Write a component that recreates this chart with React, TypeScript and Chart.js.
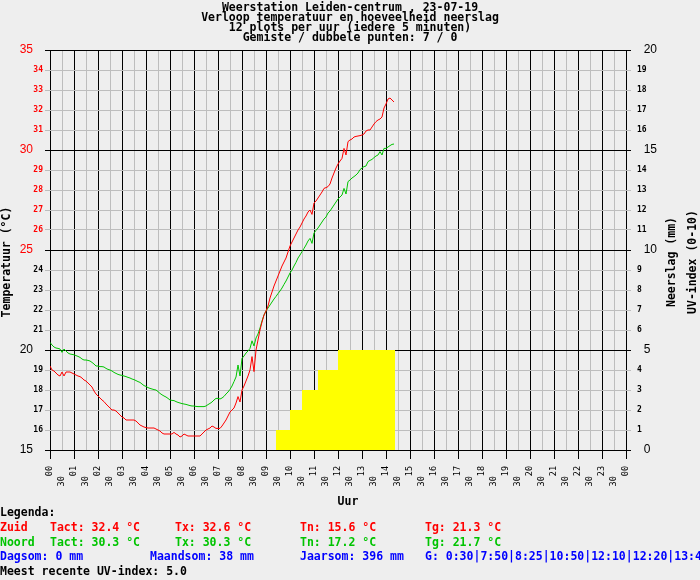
import React, { useEffect, useRef } from 'react';
import { Chart, registerables } from 'chart.js';

Chart.register(...registerables);

// ---- data ----
const START_MINUTE = 0;
const STEP_MINUTES = 5;

const zuidTemp = [
  19.2, 19.0, 18.95, 18.85, 18.75, 18.7, 18.9, 18.7, 18.9, 18.9, 18.9, 18.85,
  18.8, 18.75, 18.7, 18.67, 18.6, 18.5, 18.45, 18.35, 18.25, 18.15, 17.95, 17.8,
  17.7, 17.6, 17.5, 17.42, 17.3, 17.2, 17.1, 17.0, 17.0, 16.95, 16.85, 16.75,
  16.65, 16.6, 16.5, 16.5, 16.5, 16.5, 16.5, 16.45, 16.35, 16.25, 16.2, 16.15,
  16.12, 16.1, 16.1, 16.1, 16.1, 16.05, 16.0, 15.95, 15.85, 15.8, 15.8, 15.8,
  15.8, 15.8, 15.88, 15.8, 15.75, 15.65, 15.7, 15.8, 15.75, 15.7, 15.7, 15.7,
  15.7, 15.7, 15.7, 15.7, 15.8, 15.9, 16.0, 16.05, 16.1, 16.2, 16.15, 16.08,
  16.08, 16.08, 16.2, 16.35, 16.5, 16.7, 16.9, 17.0, 17.1, 17.35, 17.67, 17.4,
  18.0, 18.2, 18.45, 18.7, 19.0, 19.67, 18.92, 20.0, 20.5, 21.0, 21.4, 21.75,
  21.95, 22.2, 22.6, 22.9, 23.2, 23.45, 23.7, 23.95, 24.2, 24.4, 24.6, 24.9,
  25.2, 25.4, 25.6, 25.8, 26.0, 26.15, 26.35, 26.55, 26.7, 26.9, 27.0, 26.78,
  27.35, 27.45, 27.6, 27.75, 27.9, 28.08, 28.12, 28.17, 28.3, 28.6, 28.85, 29.1,
  29.3, 29.45, 29.58, 30.08, 29.75, 30.42, 30.5, 30.55, 30.65, 30.68, 30.7, 30.72,
  30.75, 30.8, 30.95, 31.0, 31.0, 31.15, 31.3, 31.42, 31.5, 31.55, 31.65, 32.1,
  32.3, 32.55, 32.6, 32.5, 32.4,
];

const noordTemp = [
  20.38, 20.25, 20.15, 20.1, 20.08, 20.05, 19.88, 20.05, 19.95, 19.85, 19.8, 19.78,
  19.76, 19.72, 19.68, 19.63, 19.55, 19.5, 19.5, 19.48, 19.45, 19.38, 19.3, 19.2,
  19.2, 19.17, 19.17, 19.15, 19.08, 19.03, 19.0, 18.95, 18.88, 18.83, 18.78, 18.75,
  18.73, 18.7, 18.67, 18.63, 18.6, 18.55, 18.52, 18.47, 18.42, 18.38, 18.3, 18.22,
  18.18, 18.12, 18.08, 18.05, 18.02, 18.0, 17.92, 17.83, 17.76, 17.7, 17.65, 17.58,
  17.5, 17.48, 17.47, 17.42, 17.38, 17.35, 17.32, 17.3, 17.28, 17.25, 17.22, 17.2,
  17.2, 17.18, 17.17, 17.17, 17.17, 17.17, 17.2, 17.27, 17.33, 17.4, 17.5, 17.58,
  17.58, 17.55, 17.6, 17.68, 17.8, 17.9, 18.03, 18.2, 18.42, 18.65, 19.25, 18.7,
  19.58, 19.7, 19.85, 19.95, 20.08, 20.46, 20.2, 20.6, 20.8, 21.1, 21.45, 21.75,
  21.95, 22.1, 22.25, 22.4, 22.55, 22.68, 22.82, 22.95, 23.1, 23.28, 23.45, 23.65,
  23.85, 24.0, 24.2, 24.38, 24.6, 24.75, 24.92, 25.08, 25.25, 25.45, 25.58, 25.33,
  25.85, 25.98, 26.1, 26.25, 26.4, 26.55, 26.65, 26.85, 26.95, 27.1, 27.25, 27.4,
  27.55, 27.65, 27.75, 28.08, 27.8, 28.42, 28.5, 28.6, 28.67, 28.75, 28.85, 29.02,
  29.1, 29.17, 29.2, 29.42, 29.48, 29.53, 29.62, 29.7, 29.75, 29.92, 29.75, 30.08,
  30.08, 30.15, 30.22, 30.28, 30.3,
];

// UV-index steps (hour of change, value)
const uvTimes = [9.417, 10.0, 10.5, 11.167, 12.0, 14.375];
const uvIndex = [1, 2, 3, 4, 5, 5];

const HOUR_MIN = 0;
const HOUR_MAX = 24;
const TEMP_MIN = 15;
const TEMP_MAX = 35;
const RAIN_MIN = 0;
const RAIN_MAX = 20;

const titleLines = [
  'Weerstation Leiden-centrum , 23-07-19',
  'Verloop temperatuur en hoeveelheid neerslag',
  '12 plots per uur (iedere 5 minuten)',
  'Gemiste / dubbele punten: 7 / 0',
];

const leftAxisTitle = 'Temperatuur (°C)';
const rightAxisTitles = ['Neerslag (mm)', 'UV-index (0-10)'];
const xAxisTitle = 'Uur';

const legendHeader = 'Legenda:';
const zuidRow = ['Zuid', 'Tact: 32.4 °C', 'Tx: 32.6 °C', 'Tn: 15.6 °C', 'Tg: 21.3 °C'];
const noordRow = ['Noord', 'Tact: 30.3 °C', 'Tx: 30.3 °C', 'Tn: 17.2 °C', 'Tg: 21.7 °C'];
const sumRow = ['Dagsom: 0 mm', 'Maandsom: 38 mm', 'Jaarsom: 396 mm', 'G: 0:30|7:50|8:25|10:50|12:10|12:20|13:45'];
const uvRow = 'Meest recente UV-index: 5.0';

// ---- styling ----
const MONO = '"DejaVu Sans Mono", "Liberation Mono", monospace';
const SANS = '"Liberation Sans", Arial, sans-serif';
const BG = '#eeeeee';
const RED = '#ff0000';
const GREEN = '#00c400';
const BLUE = '#0000ff';
const MINOR = '#bdbdbd';

const isWhole = (v: number) => Math.abs(v - Math.round(v)) < 1e-6;
const isMajor = (v: number) => isWhole(v) && Math.round(v) % 5 === 0;

const titlesPlugin = {
  id: 'axisTitlesCustom',
  afterDraw(chart: any) {
    const ctx = chart.ctx as CanvasRenderingContext2D;
    const area = chart.chartArea;
    ctx.save();
    ctx.fillStyle = '#000';
    ctx.font = `bold 11.5px ${MONO}`;
    ctx.textAlign = 'center';
    ctx.textBaseline = 'middle';
    const cy = (area.top + area.bottom) / 2 + 12;
    const rot = (text: string, x: number) => {
      ctx.save();
      ctx.translate(x, cy);
      ctx.rotate(-Math.PI / 2);
      ctx.fillText(text, 0, 0);
      ctx.restore();
    };
    rot(leftAxisTitle, 7.5);
    rot(rightAxisTitles[0], area.right + 46);
    rot(rightAxisTitles[1], area.right + 67);
    ctx.fillText(xAxisTitle, (area.left + area.right) / 2 + 10, area.bottom + 52);
    ctx.restore();
  },
};

export default function App() {
  const canvasRef = useRef<HTMLCanvasElement | null>(null);

  useEffect(() => {
    document.body.style.margin = '0';
    document.body.style.background = BG;
    const canvas = canvasRef.current;
    if (!canvas) return;

    const toPoints = (arr: number[]) =>
      arr.map((t, i) => ({ x: (START_MINUTE + i * STEP_MINUTES) / 60, y: t }));

    const chart = new Chart(canvas, {
      type: 'line',
      data: {
        datasets: [
          {
            label: 'Zuid',
            data: toPoints(zuidTemp),
            borderColor: RED,
            borderWidth: 1,
            pointRadius: 0,
            tension: 0,
            yAxisID: 'y',
            order: 1,
          },
          {
            label: 'Noord',
            data: toPoints(noordTemp),
            borderColor: GREEN,
            borderWidth: 1,
            pointRadius: 0,
            tension: 0,
            yAxisID: 'y',
            order: 2,
          },
          {
            label: 'UV-index',
            data: uvTimes.map((x, i) => ({ x, y: uvIndex[i] })),
            stepped: true,
            fill: 'origin',
            backgroundColor: '#ffff00',
            borderColor: 'rgba(0,0,0,0)',
            borderWidth: 1,
            pointRadius: 0,
            yAxisID: 'y2',
            order: 3,
          },
        ],
      },
      options: {
        animation: false,
        responsive: false,
        maintainAspectRatio: false,
        events: [],
        layout: { padding: 0 },
        plugins: {
          legend: { display: false },
          tooltip: { enabled: false },
          title: {
            display: true,
            text: titleLines,
            color: '#000',
            font: { family: MONO, size: 11.5, weight: 'bold', lineHeight: '10px' } as any,
            padding: { top: 3, bottom: 7 },
          },
        },
        scales: {
          x: {
            type: 'linear',
            min: HOUR_MIN,
            max: HOUR_MAX,
            afterFit: (s: any) => { s.height = 130; },
            ticks: {
              stepSize: 0.5,
              autoSkip: false,
              minRotation: 90,
              maxRotation: 90,
              padding: 7,
              color: '#000',
              font: { family: MONO, size: 8.5 },
              callback: (v: any) => {
                const n = Number(v);
                if (isWhole(n)) return String(Math.round(n) % 24).padStart(2, '0');
                return '30  ';
              },
            },
            grid: {
              color: (c: any) => (isWhole(c.tick.value) ? '#000' : MINOR),
              tickColor: (c: any) => (isWhole(c.tick.value) ? '#000' : 'rgba(0,0,0,0)'),
              tickLength: 9,
              lineWidth: 1,
            },
            border: { display: false },
          },
          y: {
            type: 'linear',
            position: 'left',
            min: TEMP_MIN,
            max: TEMP_MAX,
            afterFit: (s: any) => { s.width = 50; },
            ticks: {
              stepSize: 1,
              autoSkip: false,
              padding: 2,
              color: (c: any) => (c.tick && c.tick.value >= 25 ? RED : '#000'),
              font: (c: any) =>
                c.tick && isMajor(c.tick.value)
                  ? { family: SANS, size: 12 }
                  : { family: MONO, size: 8, weight: 'bold' },
              callback: (v: any) => (isMajor(Number(v)) ? `${v}   ` : `${v}`),
            },
            grid: {
              color: (c: any) => (isMajor(c.tick.value) ? '#000' : MINOR),
              tickColor: (c: any) => (isMajor(c.tick.value) ? '#000' : MINOR),
              tickLength: 5,
              lineWidth: 1,
            },
            border: { display: false },
          },
          y2: {
            type: 'linear',
            position: 'right',
            min: RAIN_MIN,
            max: RAIN_MAX,
            afterFit: (s: any) => { s.width = 74; },
            ticks: {
              stepSize: 1,
              autoSkip: false,
              padding: 6,
              color: '#000',
              font: (c: any) =>
                c.tick && isMajor(c.tick.value)
                  ? { family: SANS, size: 12 }
                  : { family: MONO, size: 8, weight: 'bold' },
              callback: (v: any) => (isMajor(Number(v)) ? `  ${v}` : `${v}`),
            },
            grid: {
              drawOnChartArea: false,
              color: (c: any) => (isMajor(c.tick.value) ? '#000' : MINOR),
              tickColor: (c: any) => (isMajor(c.tick.value) ? '#000' : MINOR),
              tickLength: 5,
              lineWidth: 1,
            },
            border: { display: false },
          },
        },
      },
      plugins: [titlesPlugin],
    } as any);

    return () => chart.destroy();
  }, []);

  const rowStyle = (i: number): React.CSSProperties => ({
    position: 'absolute',
    left: 0,
    top: 505 + i * 14.8,
    width: 700,
    height: 15,
    lineHeight: '15px',
    whiteSpace: 'pre',
    overflow: 'hidden',
  });
  const cell = (left: number, color: string, text: string, key: string) => (
    <span key={key} style={{ position: 'absolute', left, top: 0, color, whiteSpace: 'pre' }}>{text}</span>
  );
  const cols = [0, 50, 175, 300, 425];
  const sumCols = [0, 150, 300, 425];

  return (
    <div
      style={{
        position: 'relative',
        width: 700,
        height: 580,
        background: BG,
        overflow: 'hidden',
        fontFamily: MONO,
        fontWeight: 'bold',
        fontSize: '11.5px',
      }}
    >
      <canvas
        ref={canvasRef}
        width={700}
        height={580}
        style={{ position: 'absolute', left: 0, top: 0, width: 700, height: 580 }}
      />
      <div style={rowStyle(0)}>{cell(0, '#000', legendHeader, 'h')}</div>
      <div style={rowStyle(1)}>{zuidRow.map((t, i) => cell(cols[i], RED, t, 'z' + i))}</div>
      <div style={rowStyle(2)}>{noordRow.map((t, i) => cell(cols[i], GREEN, t, 'n' + i))}</div>
      <div style={rowStyle(3)}>{sumRow.map((t, i) => cell(sumCols[i], BLUE, t, 's' + i))}</div>
      <div style={rowStyle(4)}>{cell(0, '#000', uvRow, 'u')}</div>
    </div>
  );
}
